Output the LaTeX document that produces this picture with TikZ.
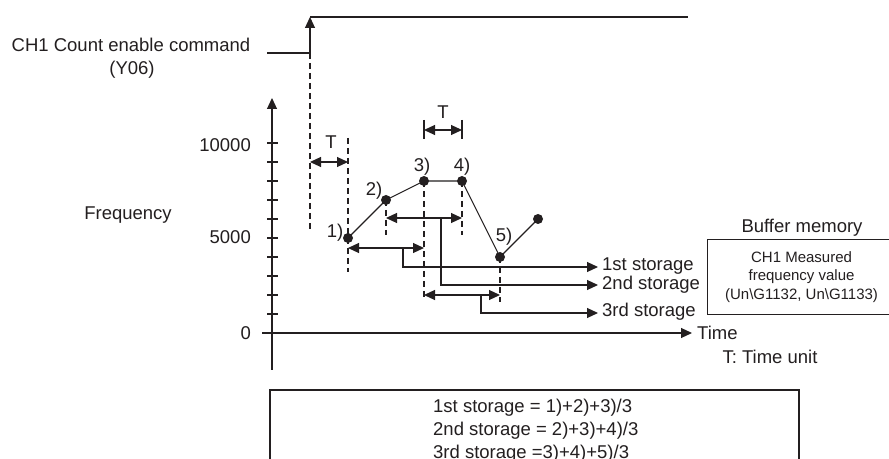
\documentclass[tikz,border=0pt]{standalone}
\usepackage{fontspec}
\setmainfont{Liberation Sans}
\usetikzlibrary{arrows.meta}
\definecolor{ink}{HTML}{231F20}
\tikzset{
  lbl/.style={inner sep=0pt, font=\fontsize{18.5bp}{22bp}\selectfont, text=ink},
  smalltxt/.style={inner sep=0pt, font=\fontsize{15bp}{18.5bp}\selectfont, text=ink},
  ln/.style={draw=ink, line width=1.1bp},
  dsh/.style={draw=ink, line width=1.1bp, dash pattern=on 6bp off 4bp},
  tipend/.style={-{Triangle[length=11bp,width=10bp]}},
  dbl/.style={{Triangle[length=11bp,width=10bp]}-{Triangle[length=11bp,width=10bp]}},
  dotpt/.style={circle, fill=ink, inner sep=0pt, minimum size=10bp},
}
\begin{document}
\begin{tikzpicture}[x=1bp,y=-1bp]
\clip (0,0) rectangle (889,459);
\fill[white] (0,0) rectangle (889,459);

% ---- count enable signal
\coordinate (lo0) at (267,53);
\coordinate (lo1) at (310,53);
\coordinate (hi0) at (310,17);
\coordinate (hi1) at (688,17);
\draw[ln] (lo0) -- (lo1);
\draw[ln,tipend] (lo1) -- (hi0);
\draw[ln] (hi0) -- (hi1);
\node[lbl] (cmd) at (131,45) {CH1 Count enable command};
\node[lbl] (y06) at (132,70) {(Y06)};

% ---- axes
\coordinate (yb) at (272,370);
\coordinate (yt) at (272,98);
\draw[ln,tipend] (yb) -- (yt);
\coordinate (x0) at (262,333);
\coordinate (x1) at (692,333);
\draw[ln,tipend] (x0) -- (x1);
\foreach \k in {1,...,10} \draw[ln] (267,333-19*\k) -- (278,333-19*\k);
\node[lbl,anchor=east] (v10k) at (251,145) {10000};
\node[lbl,anchor=east] (v5k) at (251,237) {5000};
\node[lbl,anchor=east] (v0) at (251,333) {0};
\node[lbl] (freq) at (128,215) {Frequency};
\node[lbl,anchor=west] (time) at (697,333) {Time};
\node[lbl] (tunit) at (770,357) {T: Time unit};

% ---- data points
\coordinate (p1) at (348,238);
\coordinate (p2) at (386,200);
\coordinate (p3) at (424,181);
\coordinate (p4) at (462,181);
\coordinate (p5) at (500,257);
\coordinate (p6) at (538,219);

% ---- dashed guides
\draw[dsh] (310,53) -- (310,232);
\draw[dsh] (348,138) -- (348,272);
\draw[dsh] (386,200) -- (386,235);
\draw[dsh] (424,181) -- (424,300);
\draw[dsh] (462,181) -- (462,235);
\draw[dsh] (500,257) -- (500,302);

% ---- T intervals
\draw[ln,dbl] (310,162) -- (348,162);
\node[lbl] (t1) at (331,142) {T};
\draw[ln] (424,120) -- (424,139);
\draw[ln] (462,120) -- (462,139);
\draw[ln,dbl] (424,130) -- (462,130);
\node[lbl] (t2) at (443,112) {T};

% ---- curve
\draw[ln] (p1) -- (p2) -- (p3) -- (p4) -- (p5) -- (p6);
\foreach \p in {p1,p2,p3,p4,p5,p6} \node[dotpt] at (\p) {};
\node[lbl] (l1) at (335,233) {1)};
\node[lbl] (l2) at (374,191) {2)};
\node[lbl] (l3) at (422,167) {3)};
\node[lbl] (l4) at (462,167) {4)};
\node[lbl] (l5) at (504,237) {5)};

% ---- storage intervals
\draw[ln,dbl] (348,248) -- (424,248);
\draw[ln,dbl] (386,218) -- (462,218);
\draw[ln,dbl] (424,295) -- (500,295);
\coordinate (b1) at (403,248);
\coordinate (b2) at (441,218);
\coordinate (b3) at (481,295);
\coordinate (e1) at (598,267);
\coordinate (e2) at (598,285);
\coordinate (e3) at (598,313);
\draw[ln,tipend] (b1) |- (e1);
\draw[ln,tipend] (b2) |- (e2);
\draw[ln,tipend] (b3) |- (e3);
\node[lbl,anchor=west] (s1) at (602,266) {1st storage};
\node[lbl,anchor=west] (s2) at (602,285) {2nd storage};
\node[lbl,anchor=west] (s3) at (602,312) {3rd storage};

% ---- buffer memory
\node[lbl] (bufl) at (802,228) {Buffer memory};
\node[smalltxt, draw=ink, line width=1.1bp, minimum width=188bp, minimum height=75bp,
      align=center, anchor=north west] (buf) at (707,239)
  {CH1 Measured\\frequency value\\(Un\textbackslash G1132, Un\textbackslash G1133)};

% ---- formula box
\coordinate (fa) at (270,470);
\coordinate (fb) at (270,390);
\coordinate (fc) at (799,390);
\coordinate (fd) at (799,470);
\draw[ln] (fa) -- (fb) -- (fc) -- (fd);
\node[lbl,anchor=base west] (f1) at (433,412) {1st storage = 1)+2)+3)/3};
\node[lbl,anchor=base west] (f2) at (433,435) {2nd storage = 2)+3)+4)/3};
\node[lbl,anchor=base west] (f3) at (433,458) {3rd storage =3)+4)+5)/3};
\end{tikzpicture}
\end{document}
